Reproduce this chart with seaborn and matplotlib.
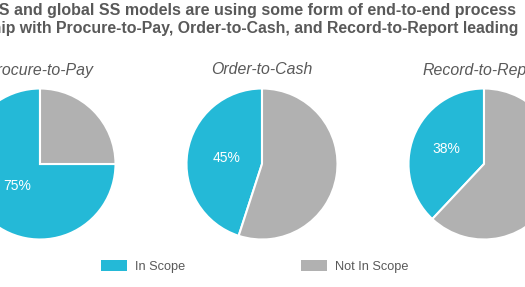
import matplotlib
matplotlib.use("Agg")
import matplotlib.pyplot as plt
import seaborn as sns
from matplotlib.patches import Patch

sns.set_theme(style="white")
plt.rcParams['font.family'] = ['Liberation Sans', 'DejaVu Sans']

# Data
processes = ["Procure-to-Pay", "Order-to-Cash", "Record-to-Report"]
in_scope = [75, 45, 38]
categories = ["In Scope", "Not In Scope"]
title_line1 = "SS and global SS models are using some form of end-to-end process"
title_line2 = "ownership with Procure-to-Pay, Order-to-Cash, and Record-to-Report leading"

colors = ["#24B9D7", "#B1B1B1"]
text_gray = "#595959"

W, H = 525, 287
fig = plt.figure(figsize=(W / 100, H / 100), dpi=100)
fig.patch.set_facecolor("white")

centers_x = [40, 262, 484]
cy = 164
r = 75.5
pctd = [0.42, 0.48, 0.53]

for i, (name, val) in enumerate(zip(processes, in_scope)):
    cx = centers_x[i]
    ax = fig.add_axes([(cx - r) / W, (H - cy - r) / H, 2 * r / W, 2 * r / H])
    wedges, texts, autotexts = ax.pie(
        [val, 100 - val], colors=colors, startangle=90, counterclock=True,
        autopct="%d%%", pctdistance=pctd[i], radius=1,
        wedgeprops=dict(edgecolor="white", linewidth=1.5),
        textprops=dict(color="white", fontsize=10))
    autotexts[1].set_visible(False)
    ax.set_xlim(-1.0, 1.0)
    ax.set_ylim(-1.0, 1.0)
    ax.set_aspect("equal")
    ax.axis("off")
    fig.text(cx / W, 1 - 70 / H, name, ha="center", va="center",
             fontsize=11.4, style="italic", color=text_gray)

fig.text(516 / W, 1 - 11 / H, title_line1, ha="right", va="center",
         fontsize=11.55, fontweight="bold", color=text_gray)
fig.text(518 / W, 1 - 29 / H, title_line2, ha="right", va="center",
         fontsize=11.4, fontweight="bold", color=text_gray)

handles = [Patch(facecolor=c, edgecolor="none") for c in colors]
leg = fig.legend(handles, categories, ncol=2, loc="center left",
                 bbox_to_anchor=(101 / W, 1 - 266.5 / H), frameon=False,
                 fontsize=9.2, handlelength=2.05, handleheight=0.9,
                 handletextpad=0.6, columnspacing=9.05, borderpad=0, borderaxespad=0)
for t in leg.get_texts():
    t.set_color(text_gray)

fig.savefig("out.png", dpi=100, facecolor="white")
